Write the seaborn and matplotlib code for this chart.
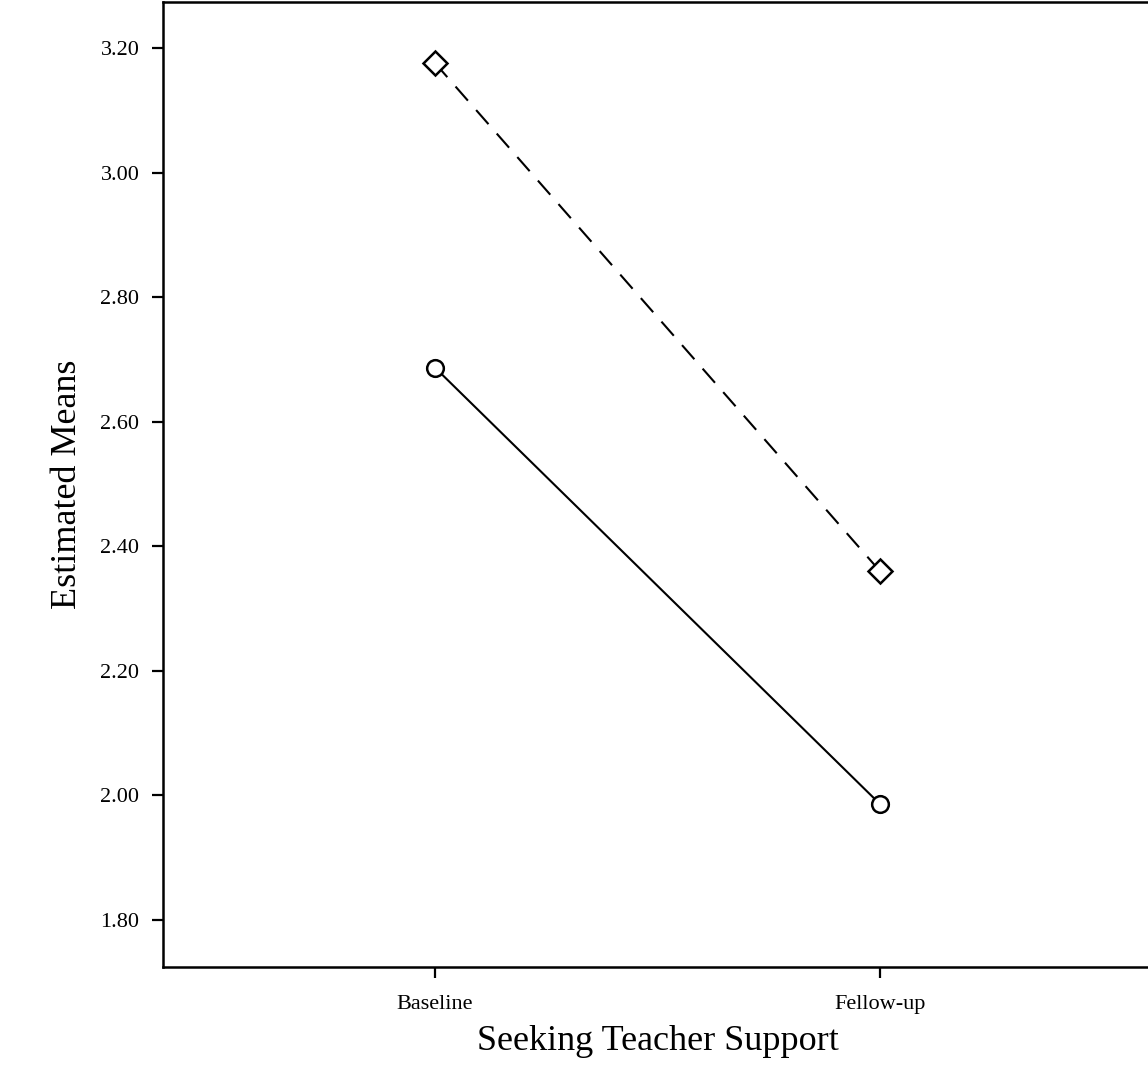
import numpy as np
import pandas as pd
import seaborn as sns
import matplotlib
matplotlib.use("Agg")
import matplotlib.pyplot as plt

# estimated means
time_points = ["Baseline", "Fellow-up"]
group_solid = [2.687, 1.986]     # circles, solid line
group_dashed = [3.176, 2.360]    # diamonds, dashed line
y_ticks = [1.80, 2.00, 2.20, 2.40, 2.60, 2.80, 3.00, 3.20]

df = pd.DataFrame({
    "time": time_points * 2,
    "mean": group_solid + group_dashed,
    "group": ["solid"] * 2 + ["dashed"] * 2,
})

sns.set_style("white")
plt.rcParams['font.family'] = ['Liberation Serif', 'DejaVu Serif']
plt.rcParams['text.color'] = 'black'
plt.rcParams['axes.labelcolor'] = 'black'
plt.rcParams['xtick.color'] = 'black'
plt.rcParams['ytick.color'] = 'black'

fig = plt.figure(figsize=(11.48, 10.8), dpi=100)
ax = fig.add_axes([163/1148, 113/1080, 989/1148, 965/1080])

sns.lineplot(data=df, x="time", y="mean", style="group",
             style_order=["solid", "dashed"],
             dashes={"solid": "", "dashed": (9, 6)},
             markers={"solid": "o", "dashed": "D"},
             color="black", linewidth=1.5, markersize=12,
             markerfacecolor="white", markeredgecolor="black",
             markeredgewidth=1.8, legend=False, ax=ax)

ax.set_xlim(-0.611, 1.611)
ax.set_ylim(1.7245, 3.274)
ax.set_yticks(y_ticks)
ax.set_yticklabels([f"{v:.2f}" for v in y_ticks])

for s in ax.spines.values():
    s.set_linewidth(1.8)
    s.set_color("black")

ax.tick_params(axis="both", direction="out", length=8, width=1.6,
               color="black", labelcolor="black", labelsize=16,
               left=True, bottom=True)
ax.tick_params(axis="y", pad=9)
ax.tick_params(axis="x", pad=12)

ax.set_xlabel("Seeking Teacher Support", fontsize=26)
ax.set_ylabel("Estimated Means", fontsize=26)
ax.yaxis.set_label_coords(-0.08, 0.5)
ax.xaxis.set_label_coords(0.5, -0.06)

fig.savefig("out.png", dpi=100)
